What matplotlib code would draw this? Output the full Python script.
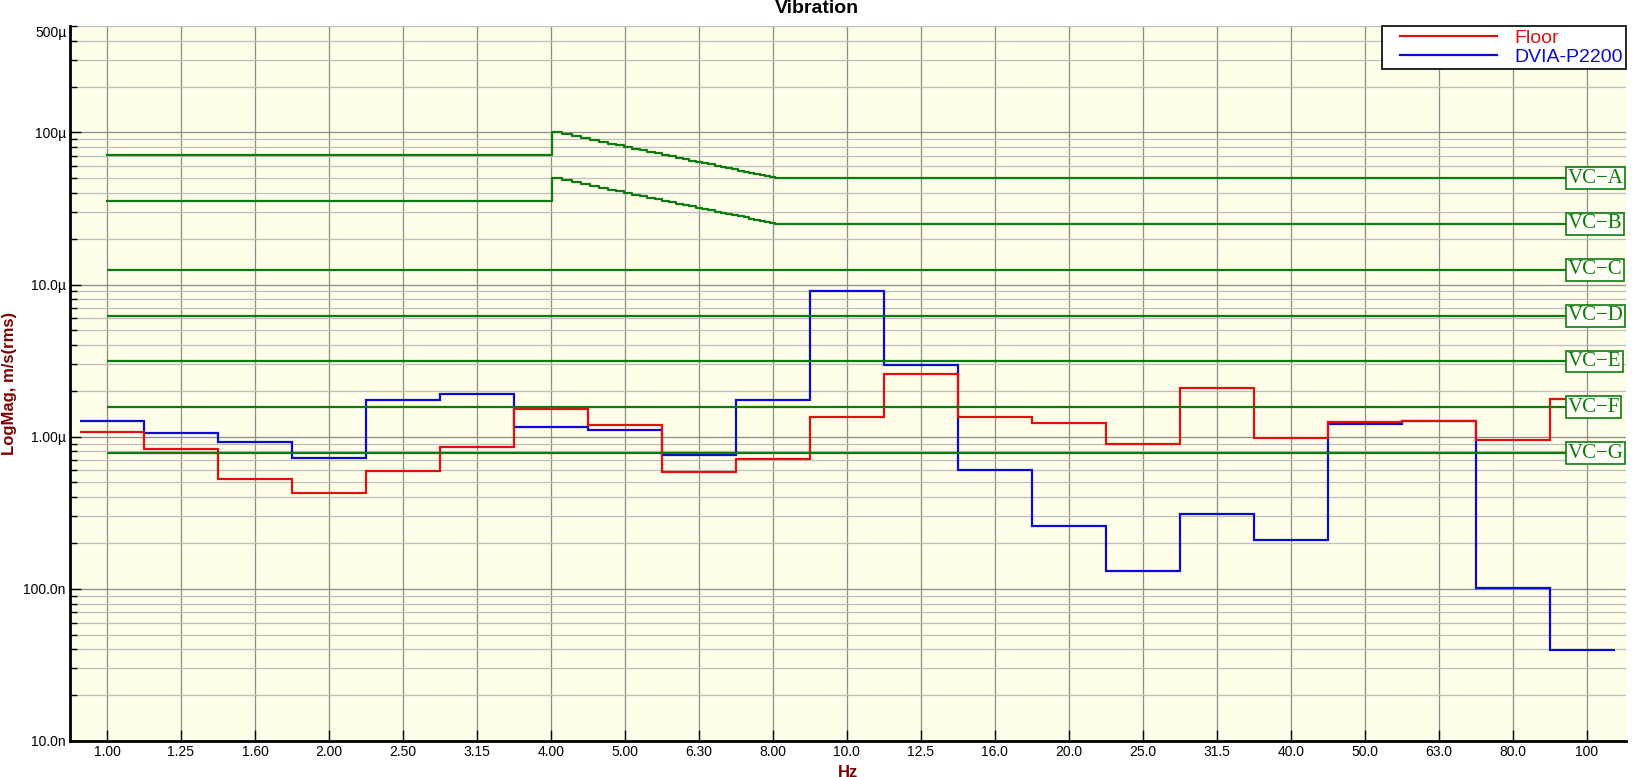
import numpy as np
import matplotlib
matplotlib.use("Agg")
import matplotlib.pyplot as plt
from matplotlib import ticker
from matplotlib.legend_handler import HandlerLine2D
from matplotlib.transforms import blended_transform_factory

plt.rcParams["font.family"] = ["Liberation Sans", "DejaVu Sans"]

# One-third octave band labels, 1 Hz .. 100 Hz
BAND_LABELS = ["1.00", "1.25", "1.60", "2.00", "2.50", "3.15", "4.00", "5.00", "6.30", "8.00",
               "10.0", "12.5", "16.0", "20.0", "25.0", "31.5", "40.0", "50.0", "63.0", "80.0", "100"]

# Band velocity levels, m/s rms
FLOOR = [1.07e-6, 0.825e-6, 0.524e-6, 0.424e-6, 0.597e-6, 0.86e-6, 1.52e-6, 1.19e-6, 0.586e-6, 0.717e-6,
         1.34e-6, 2.58e-6, 1.34e-6, 1.224e-6, 0.89e-6, 2.09e-6, 0.975e-6, 1.24e-6, 1.27e-6, 0.955e-6, 1.78e-6]
DVIA = [1.27e-6, 1.05e-6, 0.917e-6, 0.72e-6, 1.75e-6, 1.90e-6, 1.16e-6, 1.10e-6, 0.758e-6, 1.75e-6,
        9.0e-6, 2.98e-6, 0.607e-6, 0.257e-6, 0.1306e-6, 0.311e-6, 0.208e-6, 1.22e-6, 1.26e-6, 0.102e-6, 0.0397e-6]

# Vibration criteria
VC_NAMES = ["VC\u2212A", "VC\u2212B", "VC\u2212C", "VC\u2212D", "VC\u2212E", "VC\u2212F", "VC\u2212G"]
VC_LEVELS = [50e-6, 25e-6, 12.5e-6, 6.25e-6, 3.12e-6, 1.56e-6, 0.78e-6]
VC_LOW = [70.7e-6, 35.4e-6]      # VC-A, VC-B below 4 Hz
VC_PEAK = [100e-6, 50e-6]        # VC-A, VC-B at 4 Hz, constant acceleration to 8 Hz
VC_STEP_HZ = 0.125

RED = "#e01010"
BLUE = "#0a0ad0"
GREEN = "#0f7a0f"
DARKRED = "#800000"

centers = 10 ** (np.arange(len(BAND_LABELS)) / 10.0)
edges = np.concatenate([[centers[0] * 10 ** -0.036],
                        np.sqrt(centers[:-1] * centers[1:]),
                        [centers[-1] * 10 ** 0.038]])
xmin, xmax = 10 ** -0.05, 10 ** 2.053
vc_end = 10 ** 2.04

fig = plt.figure(figsize=(16.32, 7.77), dpi=100)
ax = fig.add_axes([70 / 1632, 36 / 777, 1556 / 1632, 715 / 777])
ax.set_facecolor("#fefee9")
ax.set_xscale("log")
ax.set_yscale("log")
ax.set_xlim(xmin, xmax)
ax.set_ylim(1e-8, 5e-4)

# grid
ax.set_xticks(centers)
ax.set_xticklabels(BAND_LABELS)
ax.xaxis.set_minor_locator(ticker.NullLocator())
ax.set_yticks([1e-8, 1e-7, 1e-6, 1e-5, 1e-4])
ax.set_yticklabels(["10.0n", "100.0n", "1.00\u00b5", "10.0\u00b5", "100\u00b5"])
ax.yaxis.set_minor_locator(ticker.LogLocator(base=10, subs=np.arange(2, 10), numticks=20))
ax.yaxis.set_minor_formatter(ticker.NullFormatter())
ax.grid(which="major", axis="both", color="#8c8c8c", lw=0.9)
ax.grid(which="minor", axis="y", color="#bdbdbd", lw=0.9)
ax.set_axisbelow(True)
ax.tick_params(axis="both", which="major", direction="in", length=8, width=1, labelsize=10, pad=3)
ax.tick_params(axis="y", which="minor", direction="in", length=5, width=1)
ax.text(-0.002, 5e-4, "500\u00b5", transform=blended_transform_factory(ax.transAxes, ax.transData),
        ha="right", va="top", fontsize=10)

for side in ["top", "right"]:
    ax.spines[side].set_visible(False)
for side in ["left", "bottom"]:
    ax.spines[side].set_linewidth(2)

# VC-A and VC-B with constant acceleration part between 4 and 8 Hz
steps = 4.0 + VC_STEP_HZ * np.arange(int(4.0 / VC_STEP_HZ))
for low, peak in zip(VC_LOW, VC_PEAK):
    f = np.concatenate([[1.0], steps, [8.0, vc_end]])
    v = np.concatenate([[low], peak * 4.0 / steps, [peak / 2, peak / 2]])
    ax.plot(f, v, drawstyle="steps-post", color=GREEN, lw=1.6, zorder=4)
for level in VC_LEVELS[2:]:
    ax.hlines(level, 1.0, vc_end, color=GREEN, lw=1.6, zorder=4)

ax.stairs(FLOOR, edges, baseline=None, color=RED, lw=1.6, label="Floor", zorder=3)
ax.stairs(DVIA, edges, baseline=None, color=BLUE, lw=1.6, label="DVIA-P2200", zorder=2)

tr = blended_transform_factory(ax.transAxes, ax.transData)
for name, level in zip(VC_NAMES, VC_LEVELS):
    ax.text(0.9625, level, name, transform=tr, ha="left", va="center", color=GREEN,
            fontsize=15, family=["Liberation Serif", "DejaVu Serif"], zorder=6,
            bbox=dict(boxstyle="square,pad=0.07", fc="#fffff8", ec=GREEN, lw=1.2))

handles, labels = ax.get_legend_handles_labels()
lines = [plt.Line2D([], [], color=h.get_edgecolor(), lw=1.6) for h in handles]
leg = ax.legend(lines, labels, loc="upper right", bbox_to_anchor=(1.0, 1.0), fontsize=14,
                frameon=True, fancybox=False, edgecolor="black", framealpha=1,
                borderaxespad=0, borderpad=0.15, labelspacing=0.1, handlelength=5.75,
                handletextpad=0.9, labelcolor="linecolor",
                handler_map={plt.Line2D: HandlerLine2D(xpad=0.75)})
leg.get_frame().set_linewidth(1.2)
leg.set_zorder(10)

ax.set_xlabel("Hz", color=DARKRED, fontweight="bold", fontsize=12, labelpad=4)
ax.set_ylabel("LogMag, m/s(rms)", color=DARKRED, fontweight="bold", fontsize=12)
ax.yaxis.set_label_coords(-0.034, 0.5)
fig.text(817 / 1632, 1 - 13 / 777, "Vibration", ha="center", va="baseline", fontweight="bold", fontsize=14)

fig.savefig("out.png", dpi=100)
